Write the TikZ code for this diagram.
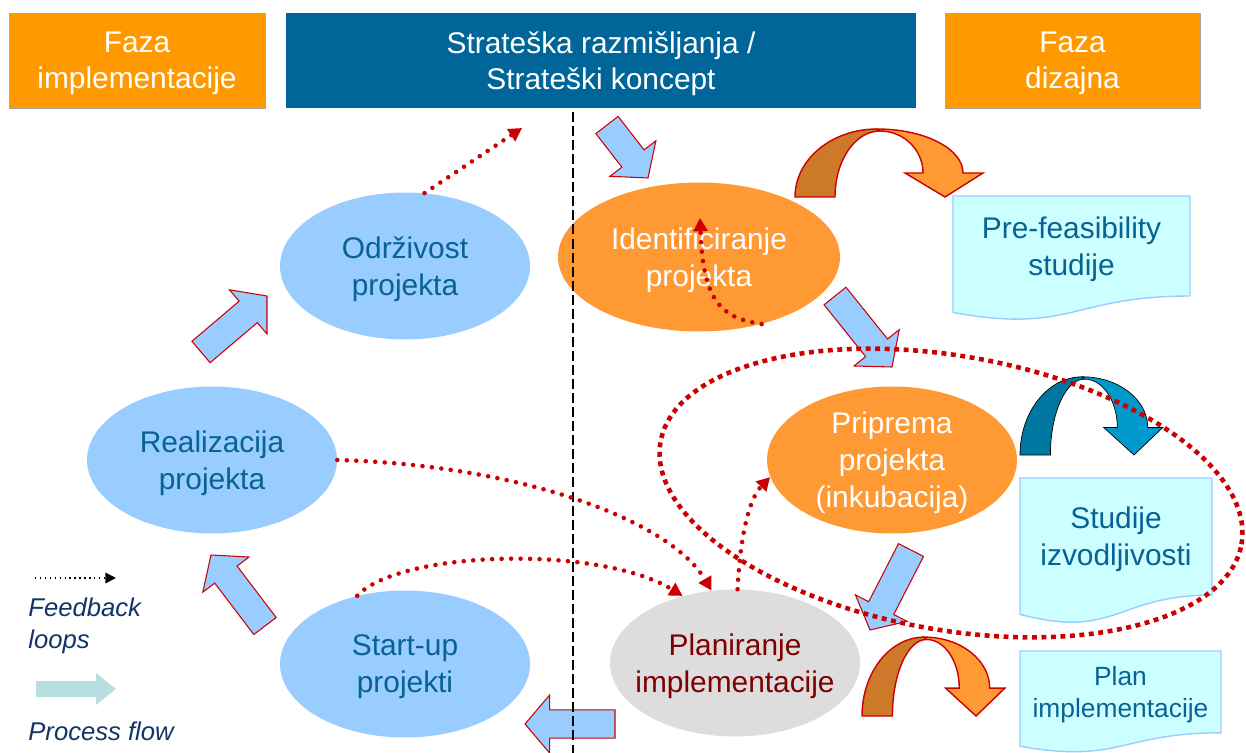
\documentclass[tikz,border=0pt]{standalone}
\usepackage{tikz}
\usepackage{xcolor}
\usepackage{fontspec}
\setmainfont{Liberation Sans}
\usetikzlibrary{shapes.geometric,arrows.meta,calc}

\definecolor{headorange}{RGB}{255,153,0}
\definecolor{headblue}{RGB}{0,102,153}
\definecolor{framegray}{RGB}{166,166,166}
\definecolor{lightblue}{RGB}{153,204,255}
\definecolor{softorange}{RGB}{255,153,51}
\definecolor{darkorange}{RGB}{204,122,41}
\definecolor{planfill}{RGB}{221,221,221}
\definecolor{planred}{RGB}{128,0,0}
\definecolor{docfill}{RGB}{204,255,255}
\definecolor{textblue}{RGB}{8,98,148}
\definecolor{dotred}{RGB}{204,0,0}
\definecolor{navy}{RGB}{18,52,102}
\definecolor{tealblue}{RGB}{0,119,160}
\definecolor{skyblue}{RGB}{0,153,204}
\definecolor{legendteal}{RGB}{183,223,224}

\newcommand{\stagefont}{\fontsize{17}{21}\selectfont}

% fat process arrow from tail #1 to tip #2
\newcommand{\flowarrow}[2]{%
  \path ($(#2)!14pt!(#1)$) coordinate (neck);
  \draw[flowshape] ($(#1)!8pt!90:(#2)$) -- ($(neck)!8pt!-90:(#1)$)
    -- ($(neck)!16.5pt!-90:(#1)$) -- (#2) -- ($(neck)!16.5pt!90:(#1)$)
    -- ($(neck)!8pt!90:(#1)$) -- ($(#1)!8pt!-90:(#2)$) -- cycle;}

% curved u-turn arrow, #1 placement, #2 back face, #3 front face
\newcommand{\uturn}[3]{%
  \begin{scope}[#1]
    \filldraw[#2] (0,0) .. controls (0,-37.6) and (36.7,-68) .. (82,-68) -- (85,-66)
      .. controls (60.1,-66) and (40,-36.5) .. (40,0) -- cycle;
    \filldraw[#3] (82,-68) .. controls (129.5,-68) and (168,-48.3) .. (168,-24)
      -- (188,-24) -- (150,0) -- (110,-24) -- (128,-24)
      .. controls (128,-47.2) and (108.7,-66) .. (85,-66) -- cycle;
  \end{scope}}

% document sheet with wavy bottom
\newcommand{\docsheet}[7][]{%
  \draw[docshape] (#3,#4) -- ({#3+#5},#4) -- ({#3+#5},{#4+0.802*#6})
    .. controls ({#3+0.5*#5},{#4+0.802*#6}) and ({#3+0.5*#5},{#4+1.1075*#6}) .. (#3,{#4+0.934*#6}) -- cycle;
  \node[doctext,#1] (#2) at ({#3+0.5*#5},{#4+0.4*#6}) {#7};}

\begin{document}
\begin{tikzpicture}[x=0.02cm, y=-0.02cm,
    phase/.style={minimum height=1.9cm, text=white, align=center, inner sep=0pt, text depth=0pt,
      font=\fontsize{17}{20.5}\selectfont},
    stage/.style={ellipse, minimum width=5cm, minimum height=2.94cm, inner xsep=-1cm,
      inner ysep=-0.5cm, align=center, text depth=0pt, font=\stagefont},
    docshape/.style={fill=docfill, draw=lightblue, line width=0.8pt},
    doctext/.style={align=center, text=textblue, text depth=0pt, font=\stagefont},
    flowshape/.style={fill=lightblue, draw=dotred, line width=0.6pt},
    uback/.style={fill=darkorange, draw=dotred, line width=0.8pt},
    ufront/.style={fill=softorange, draw=dotred, line width=0.8pt},
    feedback/.style={draw=dotred, line width=2.6pt, line cap=round, dash pattern=on 0pt off 5.4pt,
      -{Triangle[length=7.5pt,width=8pt]}},
    bigloop/.style={draw=dotred, line width=2.6pt, dash pattern=on 2.8pt off 2.6pt},
    legend/.style={anchor=west, align=left, text=navy, inner sep=0pt,
      font=\fontsize{14.6}{18.2}\selectfont\itshape}]
\useasboundingbox (0,0) rectangle (1246,753);

% Phases
\node[phase, fill=headorange, draw=framegray, minimum width=5.12cm] (fimp) at (137,60.5) {Faza\\implementacije};
\node[phase, fill=headblue, minimum width=12.6cm] (strat) at (601,60.5) {Strateška razmišljanja /\\Strateški koncept};
\node[phase, fill=headorange, draw=framegray, minimum width=5.1cm] (fdiz) at (1072.5,60.5) {Faza\\dizajna};

% Stages
\node[stage, fill=lightblue, text=textblue] (odr) at (405,266) {Održivost\\projekta};
\node[stage, fill=softorange, text=white, minimum width=5.64cm, minimum height=2.98cm] (ide) at (699,257) {Identificiranje\\projekta};
\node[stage, fill=lightblue, text=textblue] (rea) at (212,460) {Realizacija\\projekta};
\node[stage, fill=softorange, text=white] (pri) at (892,460) {Priprema\\projekta\\(inkubacija)};
\node[stage, fill=lightblue, text=textblue] (sta) at (405,664) {Start-up\\projekti};
\node[stage, fill=planfill, text=planred] (pla) at (735,663) {Planiranje\\implementacije};

% Documents
\docsheet{pfs}{953}{196}{237}{124.7}{Pre-feasibility\\studije}
\docsheet{siz}{1020}{478}{192}{146}{Studije\\izvodljivosti}
\docsheet[font=\fontsize{15}{18}\selectfont]{pim}{1020}{651}{201}{102}{Plan\\implementacije}

% Outputs
\uturn{shift={(795,197)}}{uback}{ufront}
\uturn{shift={(1020,455)}, xscale=0.76, yscale=1.15}{fill=tealblue}{fill=skyblue}
\uturn{shift={(862,716)}, xscale=0.76, yscale=1.16}{uback}{ufront}

% Process flow
\foreach \ax/\ay/\bx/\by [count=\i] in {607/125/648/178, 835/296/892/367, 911/550/870/630,
    615/724/525/724, 265/626/211/555, 201/352/267/296}
  {\coordinate (p\i) at (\ax,\ay);
   \coordinate (q\i) at (\bx,\by);
   \flowarrow{p\i}{q\i}}

% Divider
\draw[black, line width=0.8pt, dash pattern=on 5.7pt off 2.3pt] (573,112) -- (573,753);

% Feedback loops
\coordinate (fbtop) at (522,128);
\coordinate (idtip) at (700,218);
\draw[feedback] (odr.75) -- (fbtop);
\draw[feedback] (ide.-47) .. controls (720,318) and (703,300) .. (idtip);
\draw[feedback] (rea.east) .. controls (520,465) and (670,520) .. (pla.108);
\draw[feedback] (sta.125) .. controls (400,550) and (600,545) .. (pla.128);
\draw[feedback] (pla.88) .. controls (740,540) and (748,500) .. (pri.188);
\draw[bigloop, rotate around={-10:(951,493)}] (951,493) ellipse [x radius=5.9cm, y radius=2.74cm];

% Legend
\coordinate (lga) at (35,578);
\coordinate (lgb) at (116,578);
\draw[black, dotted, line width=0.8pt, -{Triangle[length=6pt,width=6pt]}] (lga) -- (lgb);
\node[legend] (lgfb) at (28,626) {Feedback\\loops};
\coordinate (lgc) at (36,689);
\coordinate (lgd) at (116,689);
\fill[legendteal] (lgc) ++(0,-8) -- ++(60,0) -- ++(0,-8) -- (lgd) -- ++(-20,16) -- ++(0,-8) -- ++(-60,0) -- cycle;
\node[legend] (lgpf) at (28,731) {Process flow};
\end{tikzpicture}
\end{document}
